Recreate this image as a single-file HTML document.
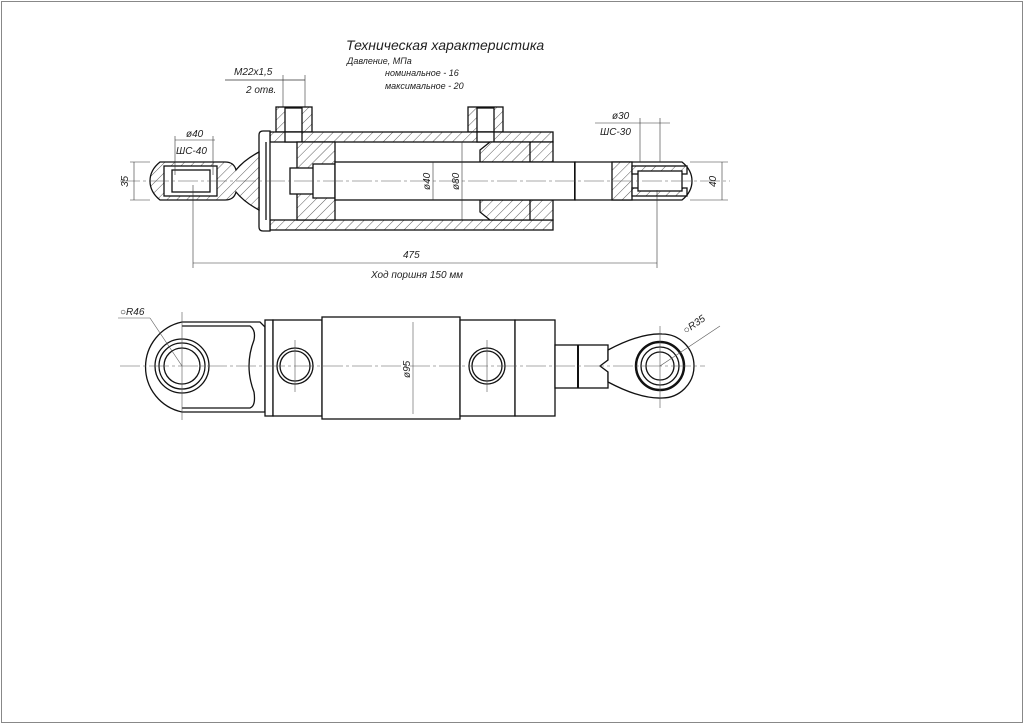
<!DOCTYPE html>
<html><head><meta charset="utf-8"><style>
html,body{margin:0;padding:0;background:#fff}
svg{display:block}
text{font-family:"Liberation Sans",sans-serif;font-style:italic;fill:#222}
</style></head><body>
<svg width="1024" height="724" viewBox="0 0 1024 724" xmlns="http://www.w3.org/2000/svg">
<defs>
<pattern id="h" patternUnits="userSpaceOnUse" width="7" height="7" patternTransform="rotate(45)">
<rect width="7" height="7" fill="#fff"/><line x1="0" y1="0" x2="0" y2="7" stroke="#333" stroke-width="0.8"/>
</pattern>
<pattern id="h2" patternUnits="userSpaceOnUse" width="7" height="7" patternTransform="rotate(-45)">
<rect width="7" height="7" fill="#fff"/><line x1="0" y1="0" x2="0" y2="7" stroke="#333" stroke-width="0.8"/>
</pattern>
</defs>
<rect x="1.5" y="1.5" width="1021" height="721" fill="none" stroke="#888" stroke-width="1"/>

<!-- texts -->
<text x="346" y="50" font-size="14">Техническая характеристика</text>
<text x="347" y="64" font-size="9">Давление, МПа</text>
<text x="385" y="76" font-size="9">номинальное  -  16</text>
<text x="385" y="89" font-size="9">максимальное - 20</text>
<text x="234" y="75" font-size="10">M22x1,5</text>
<text x="246" y="93" font-size="10">2 отв.</text>
<line x1="225" y1="80" x2="305" y2="80" stroke="#333" stroke-width="0.7"/>
<line x1="283" y1="75" x2="283" y2="107" stroke="#333" stroke-width="0.6"/>
<line x1="305" y1="75" x2="305" y2="107" stroke="#333" stroke-width="0.6"/>

<g stroke="#111" stroke-width="1.3" fill="none">
<!-- ports -->
<rect x="276" y="107" width="36" height="25" fill="url(#h)"/>
<rect x="285" y="108" width="17" height="24" fill="#fff"/>
<rect x="468" y="107" width="35" height="25" fill="url(#h)"/>
<rect x="477" y="108" width="17" height="24" fill="#fff"/>
<!-- tube -->
<rect x="270" y="132" width="283" height="10" fill="url(#h)"/>
<rect x="270" y="220" width="283" height="10" fill="url(#h)"/>
<rect x="285" y="132" width="17" height="10" fill="#fff"/>
<rect x="477" y="132" width="17" height="10" fill="#fff"/>
<!-- flange -->
<path d="M259 135 Q259 131 263 131 L270 131 L270 231 L263 231 Q259 231 259 227 Z" fill="#fff"/>
<line x1="266" y1="142" x2="266" y2="220"/>
<!-- piston -->
<rect x="297" y="142" width="38" height="78" fill="url(#h)"/>
<rect x="290" y="168" width="28" height="26" fill="#fff"/>
<rect x="313" y="164" width="22" height="34" fill="#fff"/>
<!-- gland -->
<path d="M480 150 L490 142 L553 142 L553 162 L480 162 Z" fill="url(#h)"/>
<path d="M480 212 L490 220 L553 220 L553 200 L480 200 Z" fill="url(#h)"/>
<line x1="530" y1="142" x2="530" y2="162"/><line x1="530" y1="200" x2="530" y2="220"/>
<!-- rod -->
<rect x="335" y="162" width="240" height="38" fill="#fff"/>
<line x1="575" y1="162" x2="575" y2="200" stroke-width="2"/>
<!-- rod eye -->
<path d="M575 162 L682 162 Q692 170 692 181 Q692 192 682 200 L575 200 Z" fill="#fff"/>
<rect x="612" y="162" width="20" height="38" fill="url(#h)"/>
<rect x="632" y="166" width="55" height="8" fill="url(#h)"/>
<rect x="632" y="188" width="55" height="8" fill="url(#h)"/>
<rect x="638" y="171" width="44" height="20" fill="#fff"/>
<!-- left eye -->
<path d="M160 162 L225 162 Q234 162 236 170 Q244 160 259 152 L259 210 Q244 202 236 192 Q234 200 225 200 L160 200 Q150 192 150 181 Q150 170 160 162 Z" fill="url(#h)"/>
<rect x="164" y="166" width="53" height="30" fill="#fff"/>
<rect x="172" y="170" width="38" height="22" fill="#fff"/>
</g>
<!-- center line -->
<line x1="120" y1="181" x2="730" y2="181" stroke="#555" stroke-width="0.6" stroke-dasharray="20 3 3 3"/>
<!-- dims top -->
<g stroke="#333" stroke-width="0.6">
<line x1="193" y1="185" x2="193" y2="268"/><line x1="657" y1="190" x2="657" y2="268"/>
<line x1="193" y1="263" x2="657" y2="263"/>
<line x1="130" y1="162" x2="150" y2="162"/><line x1="130" y1="200" x2="150" y2="200"/>
<line x1="134" y1="162" x2="134" y2="200"/>
<line x1="690" y1="162" x2="728" y2="162"/><line x1="690" y1="200" x2="728" y2="200"/>
<line x1="722" y1="162" x2="722" y2="200"/>
<line x1="175" y1="140" x2="215" y2="140"/><line x1="175" y1="136" x2="175" y2="175"/><line x1="213" y1="136" x2="213" y2="175"/>
<line x1="595" y1="123" x2="670" y2="123"/><line x1="640" y1="118" x2="640" y2="162"/><line x1="660" y1="118" x2="660" y2="162"/>
<line x1="433" y1="162" x2="433" y2="200"/><line x1="462" y1="142" x2="462" y2="220"/>
</g>
<text x="403" y="258" font-size="10">475</text>
<text x="371" y="278" font-size="10">Ход поршня 150 мм</text>
<text x="186" y="137" font-size="10">ø40</text>
<text x="176" y="154" font-size="10">ШС-40</text>
<text x="612" y="119" font-size="10">ø30</text>
<text x="600" y="135" font-size="10">ШС-30</text>
<text transform="translate(128,187) rotate(-90)" font-size="10">35</text>
<text transform="translate(716,187) rotate(-90)" font-size="10">40</text>
<text transform="translate(430,190) rotate(-90)" font-size="10">ø40</text>
<text transform="translate(459,190) rotate(-90)" font-size="10">ø80</text>

<!-- bottom view -->
<g stroke="#111" stroke-width="1.3" fill="none">
<path d="M182 322 L260 322 L265 327 L265 412 L182 412 A46 46 0 0 1 182 322 Z" fill="#fff"/>
<path d="M182 326 L250 326 Q256 330 254 340 Q244 366 254 392 Q256 406 250 408 L182 408"/>
<circle cx="182" cy="366" r="27"/><circle cx="182" cy="366" r="23"/><circle cx="182" cy="366" r="18"/>
<rect x="265" y="320" width="8" height="96" fill="#fff"/>
<rect x="273" y="320" width="49" height="96" fill="#fff"/>
<rect x="322" y="317" width="138" height="102" fill="#fff"/>
<rect x="460" y="320" width="55" height="96" fill="#fff"/>
<rect x="515" y="320" width="40" height="96" fill="#fff"/>
<circle cx="295" cy="366" r="18"/><circle cx="295" cy="366" r="15"/>
<circle cx="487" cy="366" r="18"/><circle cx="487" cy="366" r="15"/>
<rect x="555" y="345" width="53" height="43" fill="#fff"/>
<line x1="578" y1="345" x2="578" y2="388" stroke-width="2"/>
<path d="M608 350 Q640 333 662 334 A32 32 0 0 1 662 398 Q640 399 608 382 L608 372 L600 366 L608 360 Z" fill="#fff"/>
<circle cx="660" cy="366" r="24" stroke-width="2.5"/><circle cx="660" cy="366" r="19"/><circle cx="660" cy="366" r="14"/>
</g>
<g stroke="#555" stroke-width="0.6">
<line x1="120" y1="366" x2="705" y2="366" stroke-dasharray="20 3 3 3"/>
<line x1="182" y1="312" x2="182" y2="420"/>
<line x1="295" y1="340" x2="295" y2="392"/><line x1="487" y1="340" x2="487" y2="392"/>
<line x1="660" y1="326" x2="660" y2="408"/>
<line x1="413" y1="322" x2="413" y2="414"/>
<line x1="118" y1="318" x2="150" y2="318"/><line x1="150" y1="318" x2="182" y2="366"/>
<line x1="660" y1="366" x2="720" y2="326"/>
</g>
<text x="120" y="315" font-size="10">○R46</text>
<text transform="translate(686,334) rotate(-35)" font-size="10">○R35</text>
<text transform="translate(410,378) rotate(-90)" font-size="10">ø95</text>
</svg>
</body></html>
